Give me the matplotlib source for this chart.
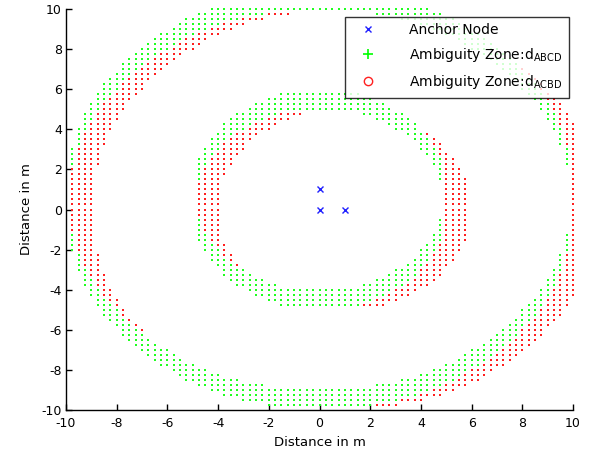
import numpy as np
import matplotlib
matplotlib.use("Agg")
import matplotlib.pyplot as plt
from matplotlib.lines import Line2D

# ---------------- data ----------------
GRID_STEP = 0.25  # spacing of the sampled dots (m)

anchor_x = [0, 0, 1]
anchor_y = [1, 0, 0]

# each run: (y, x_start, x_end) -> dots every GRID_STEP from x_start to x_end
green_outer_runs = [
    (10.0, -4.25, 4.25),
    (9.75, -4.75, -2.25), (9.75, 2.25, 4.75),
    (9.5, -5.25, -3.25), (9.5, 3.25, 5.25),
    (9.25, -5.5, -4.0), (9.25, 4.0, 5.5),
    (9.0, -5.75, -4.5), (9.0, 4.5, 5.75),
    (8.75, -6.25, -5.0), (8.75, 5.0, 6.25),
    (8.5, -6.5, -5.5), (8.5, 5.5, 6.5),
    (8.25, -6.75, -5.75), (8.25, 5.75, 6.75),
    (8.0, -7.0, -6.0), (8.0, 6.0, 7.0),
    (7.75, -7.25, -6.5), (7.75, 6.5, 7.25),
    (7.5, -7.5, -6.75), (7.5, 6.75, 7.5),
    (7.25, -7.75, -7.0), (7.25, 7.0, 7.75),
    (7.0, -7.75, -7.25), (7.0, 7.25, 7.75),
    (6.75, -8.0, -7.5), (6.75, 7.5, 8.0),
    (6.5, -8.25, -7.75), (6.5, 7.75, 8.25),
    (6.25, -8.5, -8.0), (6.25, 8.0, 8.5),
    (6.0, -8.5, -8.0), (6.0, 8.0, 8.5),
    (5.75, -8.75, -8.25), (5.75, 8.25, 8.75),
    (5.5, -8.75, -8.5), (5.5, 8.5, 8.75),
    (5.25, -9.0, -8.75), (5.25, 8.75, 9.0),
    (5.0, -9.0, -8.75), (5.0, 8.75, 9.0),
    (4.75, -9.25, -9.0), (4.75, 9.0, 9.25),
    (4.5, -9.25, -9.0), (4.5, 9.0, 9.25),
    (4.25, -9.25, -9.25), (4.25, 9.25, 9.25),
    (4.0, -9.5, -9.25), (4.0, 9.25, 9.5),
    (3.75, -9.5, -9.5), (3.75, 9.5, 9.5),
    (3.5, -9.5, -9.5), (3.5, 9.5, 9.5),
    (3.25, -9.5, -9.5), (3.25, 9.5, 9.5),
    (3.0, -9.75, -9.75), (3.0, 9.75, 9.75),
    (2.75, -9.75, -9.75), (2.75, 9.75, 9.75),
    (2.5, -9.75, -9.75), (2.5, 9.75, 9.75),
    (2.25, -9.75, -9.75), (2.25, 9.75, 9.75),
    (-1.25, -9.75, -9.75), (-1.25, 9.75, 9.75),
    (-1.5, -9.75, -9.75), (-1.5, 9.75, 9.75),
    (-1.75, -9.75, -9.75), (-1.75, 9.75, 9.75),
    (-2.0, -9.75, -9.75), (-2.0, 9.75, 9.75),
    (-2.25, -9.5, -9.5), (-2.25, 9.5, 9.5),
    (-2.5, -9.5, -9.5), (-2.5, 9.5, 9.5),
    (-2.75, -9.5, -9.5), (-2.75, 9.5, 9.5),
    (-3.0, -9.5, -9.25), (-3.0, 9.25, 9.5),
    (-3.25, -9.25, -9.25), (-3.25, 9.25, 9.25),
    (-3.5, -9.25, -9.0), (-3.5, 9.0, 9.25),
    (-3.75, -9.25, -9.0), (-3.75, 9.0, 9.25),
    (-4.0, -9.0, -8.75), (-4.0, 8.75, 9.0),
    (-4.25, -9.0, -8.75), (-4.25, 8.75, 9.0),
    (-4.5, -8.75, -8.5), (-4.5, 8.5, 8.75),
    (-4.75, -8.75, -8.25), (-4.75, 8.25, 8.75),
    (-5.0, -8.5, -8.0), (-5.0, 8.0, 8.5),
    (-5.25, -8.5, -8.0), (-5.25, 8.0, 8.5),
    (-5.5, -8.25, -7.75), (-5.5, 7.75, 8.25),
    (-5.75, -8.0, -7.5), (-5.75, 7.5, 8.0),
    (-6.0, -7.75, -7.25), (-6.0, 7.25, 7.75),
    (-6.25, -7.75, -7.0), (-6.25, 7.0, 7.75),
    (-6.5, -7.5, -6.75), (-6.5, 6.75, 7.5),
    (-6.75, -7.25, -6.5), (-6.75, 6.5, 7.25),
    (-7.0, -7.0, -6.0), (-7.0, 6.0, 7.0),
    (-7.25, -6.75, -5.75), (-7.25, 5.75, 6.75),
    (-7.5, -6.5, -5.5), (-7.5, 5.5, 6.5),
    (-7.75, -6.25, -5.0), (-7.75, 5.0, 6.25),
    (-8.0, -5.75, -4.5), (-8.0, 4.5, 5.75),
    (-8.25, -5.5, -4.0), (-8.25, 4.0, 5.5),
    (-8.5, -5.25, -3.25), (-8.5, 3.25, 5.25),
    (-8.75, -4.75, -2.25), (-8.75, 2.25, 4.75),
    (-9.0, -4.25, 4.25),
    (-9.25, -3.75, 3.75),
    (-9.5, -3.0, 3.0),
    (-9.75, -2.0, 2.0),
]

green_inner_runs = [
    (5.75, -1.5, 1.5),
    (5.5, -2.0, 2.0),
    (5.25, -2.5, 2.5),
    (5.0, -2.75, 2.75),
    (4.75, -3.25, -1.75), (4.75, 1.75, 3.25),
    (4.5, -3.5, -2.25), (4.5, 2.25, 3.5),
    (4.25, -3.75, -2.75), (4.25, 2.75, 3.75),
    (4.0, -3.75, -3.0), (4.0, 3.0, 3.75),
    (3.75, -4.0, -3.5), (3.75, 3.5, 4.0),
    (3.5, -4.25, -3.75), (3.5, 3.75, 4.25),
    (3.25, -4.25, -4.0), (3.25, 4.0, 4.25),
    (3.0, -4.5, -4.0), (3.0, 4.0, 4.5),
    (2.75, -4.5, -4.25), (2.75, 4.25, 4.5),
    (2.5, -4.75, -4.5), (2.5, 4.5, 4.75),
    (2.25, -4.75, -4.5), (2.25, 4.5, 4.75),
    (2.0, -4.75, -4.75), (2.0, 4.75, 4.75),
    (1.75, -4.75, -4.75), (1.75, 4.75, 4.75),
    (1.5, -4.75, -4.75), (1.5, 4.75, 4.75),
    (-0.5, -4.75, -4.75), (-0.5, 4.75, 4.75),
    (-0.75, -4.75, -4.75), (-0.75, 4.75, 4.75),
    (-1.0, -4.75, -4.75), (-1.0, 4.75, 4.75),
    (-1.25, -4.75, -4.5), (-1.25, 4.5, 4.75),
    (-1.5, -4.75, -4.5), (-1.5, 4.5, 4.75),
    (-1.75, -4.5, -4.25), (-1.75, 4.25, 4.5),
    (-2.0, -4.5, -4.0), (-2.0, 4.0, 4.5),
    (-2.25, -4.25, -4.0), (-2.25, 4.0, 4.25),
    (-2.5, -4.25, -3.75), (-2.5, 3.75, 4.25),
    (-2.75, -4.0, -3.5), (-2.75, 3.5, 4.0),
    (-3.0, -3.75, -3.0), (-3.0, 3.0, 3.75),
    (-3.25, -3.75, -2.75), (-3.25, 2.75, 3.75),
    (-3.5, -3.5, -2.25), (-3.5, 2.25, 3.5),
    (-3.75, -3.25, -1.75), (-3.75, 1.75, 3.25),
    (-4.0, -2.75, 2.75),
    (-4.25, -2.5, 2.5),
    (-4.5, -2.0, 2.0),
    (-4.75, -1.5, 1.5),
]

red_outer_runs = [
    (9.75, -2.0, -1.25), (9.75, 2.25, 3.0),
    (9.5, -3.0, -2.25), (9.5, 3.25, 4.0),
    (9.25, -3.75, -3.0), (9.25, 4.0, 4.75),
    (9.0, -4.25, -3.5), (9.0, 4.5, 5.25),
    (8.75, -4.75, -4.0), (8.75, 5.0, 5.75),
    (8.5, -5.25, -4.5), (8.5, 5.5, 6.25),
    (8.25, -5.5, -4.75), (8.25, 5.75, 6.5),
    (8.0, -5.75, -5.0), (8.0, 6.0, 6.75),
    (7.75, -6.25, -5.5), (7.75, 6.5, 7.25),
    (7.5, -6.5, -5.75), (7.5, 6.75, 7.5),
    (7.25, -6.75, -6.0), (7.25, 7.0, 7.75),
    (7.0, -7.0, -6.25), (7.0, 7.25, 8.0),
    (6.75, -7.25, -6.5), (6.75, 7.5, 8.25),
    (6.5, -7.5, -6.75), (6.5, 7.75, 8.5),
    (6.25, -7.75, -7.0), (6.25, 8.0, 8.75),
    (6.0, -7.75, -7.0), (6.0, 8.0, 8.75),
    (5.75, -8.0, -7.25), (5.75, 8.25, 9.0),
    (5.5, -8.25, -7.5), (5.5, 8.5, 9.25),
    (5.25, -8.5, -7.75), (5.25, 8.75, 9.5),
    (5.0, -8.5, -7.75), (5.0, 8.75, 9.5),
    (4.75, -8.75, -8.0), (4.75, 9.0, 9.75),
    (4.5, -8.75, -8.0), (4.5, 9.0, 9.75),
    (4.25, -9.0, -8.25), (4.25, 9.25, 10.0),
    (4.0, -9.0, -8.25), (4.0, 9.25, 10.0),
    (3.75, -9.25, -8.5), (3.75, 9.5, 10.0),
    (3.5, -9.25, -8.5), (3.5, 9.5, 10.0),
    (3.25, -9.25, -8.5), (3.25, 9.5, 10.0),
    (3.0, -9.5, -8.75), (3.0, 9.75, 10.0),
    (2.75, -9.5, -8.75), (2.75, 9.75, 10.0),
    (2.5, -9.5, -8.75), (2.5, 9.75, 10.0),
    (2.25, -9.5, -8.75), (2.25, 9.75, 10.0),
    (2.0, -9.75, -9.0), (2.0, 10.0, 10.0),
    (1.75, -9.75, -9.0), (1.75, 10.0, 10.0),
    (1.5, -9.75, -9.0), (1.5, 10.0, 10.0),
    (1.25, -9.75, -9.0), (1.25, 10.0, 10.0),
    (1.0, -9.75, -9.0), (1.0, 10.0, 10.0),
    (0.75, -9.75, -9.0), (0.75, 10.0, 10.0),
    (0.5, -9.75, -9.0), (0.5, 10.0, 10.0),
    (0.25, -9.75, -9.0), (0.25, 10.0, 10.0),
    (0.0, -9.75, -9.0), (0.0, 10.0, 10.0),
    (-0.25, -9.75, -9.0), (-0.25, 10.0, 10.0),
    (-0.5, -9.75, -9.0), (-0.5, 10.0, 10.0),
    (-0.75, -9.75, -9.0), (-0.75, 10.0, 10.0),
    (-1.0, -9.75, -9.0), (-1.0, 10.0, 10.0),
    (-1.25, -9.75, -9.0), (-1.25, 10.0, 10.0),
    (-1.5, -9.75, -9.0), (-1.5, 10.0, 10.0),
    (-1.75, -9.75, -9.0), (-1.75, 10.0, 10.0),
    (-2.0, -9.75, -9.0), (-2.0, 10.0, 10.0),
    (-2.25, -9.5, -8.75), (-2.25, 9.75, 10.0),
    (-2.5, -9.5, -8.75), (-2.5, 9.75, 10.0),
    (-2.75, -9.5, -8.75), (-2.75, 9.75, 10.0),
    (-3.0, -9.5, -8.75), (-3.0, 9.75, 10.0),
    (-3.25, -9.25, -8.5), (-3.25, 9.5, 10.0),
    (-3.5, -9.25, -8.5), (-3.5, 9.5, 10.0),
    (-3.75, -9.25, -8.5), (-3.75, 9.5, 10.0),
    (-4.0, -9.0, -8.25), (-4.0, 9.25, 10.0),
    (-4.25, -9.0, -8.25), (-4.25, 9.25, 10.0),
    (-4.5, -8.75, -8.0), (-4.5, 9.0, 9.75),
    (-4.75, -8.75, -8.0), (-4.75, 9.0, 9.75),
    (-5.0, -8.5, -7.75), (-5.0, 8.75, 9.5),
    (-5.25, -8.5, -7.75), (-5.25, 8.75, 9.5),
    (-5.5, -8.25, -7.5), (-5.5, 8.5, 9.25),
    (-5.75, -8.0, -7.25), (-5.75, 8.25, 9.0),
    (-6.0, -7.75, -7.0), (-6.0, 8.0, 8.75),
    (-6.25, -7.75, -7.0), (-6.25, 8.0, 8.75),
    (-6.5, -7.5, -6.75), (-6.5, 7.75, 8.5),
    (-6.75, -7.25, -6.5), (-6.75, 7.5, 8.25),
    (-7.0, -7.0, -6.25), (-7.0, 7.25, 8.0),
    (-7.25, -6.75, -6.0), (-7.25, 7.0, 7.75),
    (-7.5, -6.5, -5.75), (-7.5, 6.75, 7.5),
    (-7.75, -6.25, -5.5), (-7.75, 6.5, 7.25),
    (-8.0, -5.75, -5.0), (-8.0, 6.0, 6.75),
    (-8.25, -5.5, -4.75), (-8.25, 5.75, 6.5),
    (-8.5, -5.25, -4.5), (-8.5, 5.5, 6.25),
    (-8.75, -4.75, -4.0), (-8.75, 5.0, 5.75),
    (-9.0, -4.25, -3.5), (-9.0, 4.5, 5.25),
    (-9.25, -3.75, -3.0), (-9.25, 4.0, 4.75),
    (-9.5, -3.0, -2.25), (-9.5, 3.25, 4.0),
    (-9.75, -2.0, -1.25), (-9.75, 2.25, 3.0),
]

red_inner_runs = [
    (4.75, -1.5, -0.75), (4.75, 1.75, 2.5),
    (4.5, -2.0, -1.25), (4.5, 2.25, 3.0),
    (4.25, -2.5, -1.75), (4.25, 2.75, 3.5),
    (4.0, -2.75, -2.0), (4.0, 3.0, 3.75),
    (3.75, -3.25, -2.5), (3.75, 3.5, 4.25),
    (3.5, -3.5, -2.75), (3.5, 3.75, 4.5),
    (3.25, -3.75, -3.0), (3.25, 4.0, 4.75),
    (3.0, -3.75, -3.0), (3.0, 4.0, 4.75),
    (2.75, -4.0, -3.25), (2.75, 4.25, 5.0),
    (2.5, -4.25, -3.5), (2.5, 4.5, 5.25),
    (2.25, -4.25, -3.5), (2.25, 4.5, 5.25),
    (2.0, -4.5, -3.75), (2.0, 4.75, 5.5),
    (1.75, -4.5, -3.75), (1.75, 4.75, 5.5),
    (1.5, -4.75, -4.0), (1.5, 5.0, 5.75),
    (1.25, -4.75, -4.0), (1.25, 5.0, 5.75),
    (1.0, -4.75, -4.0), (1.0, 5.0, 5.75),
    (0.75, -4.75, -4.0), (0.75, 5.0, 5.75),
    (0.5, -4.75, -4.0), (0.5, 5.0, 5.75),
    (0.25, -4.75, -4.0), (0.25, 5.0, 5.75),
    (0.0, -4.75, -4.0), (0.0, 5.0, 5.75),
    (-0.25, -4.75, -4.0), (-0.25, 5.0, 5.75),
    (-0.5, -4.75, -4.0), (-0.5, 5.0, 5.75),
    (-0.75, -4.75, -4.0), (-0.75, 5.0, 5.75),
    (-1.0, -4.75, -4.0), (-1.0, 5.0, 5.75),
    (-1.25, -4.75, -4.0), (-1.25, 5.0, 5.75),
    (-1.5, -4.75, -4.0), (-1.5, 5.0, 5.75),
    (-1.75, -4.5, -3.75), (-1.75, 4.75, 5.5),
    (-2.0, -4.5, -3.75), (-2.0, 4.75, 5.5),
    (-2.25, -4.25, -3.5), (-2.25, 4.5, 5.25),
    (-2.5, -4.25, -3.5), (-2.5, 4.5, 5.25),
    (-2.75, -4.0, -3.25), (-2.75, 4.25, 5.0),
    (-3.0, -3.75, -3.0), (-3.0, 4.0, 4.75),
    (-3.25, -3.75, -3.0), (-3.25, 4.0, 4.75),
    (-3.5, -3.5, -2.75), (-3.5, 3.75, 4.5),
    (-3.75, -3.25, -2.5), (-3.75, 3.5, 4.25),
    (-4.0, -2.75, -2.0), (-4.0, 3.0, 3.75),
    (-4.25, -2.5, -1.75), (-4.25, 2.75, 3.5),
    (-4.5, -2.0, -1.25), (-4.5, 2.25, 3.0),
    (-4.75, -1.5, -0.75), (-4.75, 1.75, 2.5),
]

x_ticks = [-10, -8, -6, -4, -2, 0, 2, 4, 6, 8, 10]
y_ticks = [-10, -8, -6, -4, -2, 0, 2, 4, 6, 8, 10]
labels = ["Anchor Node", "Ambiguity Zone:d$_{ABCD}$", "Ambiguity Zone:d$_{ACBD}$"]


def expand(runs):
    xs, ys = [], []
    for y, x0, x1 in runs:
        pts = np.arange(x0, x1 + GRID_STEP / 2, GRID_STEP)
        xs.extend(pts)
        ys.extend([y] * len(pts))
    return np.array(xs), np.array(ys)


plt.rcParams["font.family"] = ["DejaVu Sans"]
plt.rcParams["axes.unicode_minus"] = False
plt.rcParams["mathtext.default"] = "regular"

fig = plt.figure(figsize=(5.92, 4.57), dpi=100)
ax = fig.add_axes([0.1115, 0.1028, 0.8564, 0.8775])

gx, gy = expand(green_outer_runs + green_inner_runs)
rx, ry = expand(red_outer_runs + red_inner_runs)

ax.scatter(rx, ry, s=1.7, marker="s", color="#ff2020", linewidths=0, zorder=2, clip_on=False)
ax.scatter(gx, gy, s=1.7, marker="s", color="#20ff20", linewidths=0, zorder=3, clip_on=False)
ax.plot(anchor_x, anchor_y, linestyle="none", marker="x", color="#2020ff",
        markersize=4.5, markeredgewidth=1.0, zorder=4)

ax.set_xlim(-10, 10)
ax.set_ylim(-10, 10)
ax.set_xticks(x_ticks)
ax.set_yticks(y_ticks)
ax.tick_params(direction="in", length=4, width=1, labelsize=9, colors="black")
ax.tick_params(axis="x", pad=5)
ax.tick_params(axis="y", pad=3)
for side in ["top", "right"]:
    ax.spines[side].set_visible(False)
for side in ["left", "bottom"]:
    ax.spines[side].set_linewidth(1.0)
ax.set_xlabel("Distance in m", fontsize=9.5, labelpad=4)
ax.set_ylabel("Distance in m", fontsize=9.5, labelpad=6)

handles = [
    Line2D([], [], linestyle="none", marker="x", color="#2020ff", markersize=5, markeredgewidth=1.0),
    Line2D([], [], linestyle="none", marker="+", color="#00ff00", markersize=7, markeredgewidth=1.2),
    Line2D([], [], linestyle="none", marker="o", color="#ff2020", markerfacecolor="none",
           markersize=6, markeredgewidth=1.0),
]
leg = ax.legend(handles, labels, loc="upper right", bbox_to_anchor=(0.992, 0.980),
                borderaxespad=0, fontsize=10, frameon=True, fancybox=False,
                handlelength=2.4, handletextpad=1.8, labelspacing=0.65, borderpad=0.45)
leg.get_frame().set_edgecolor("black")
leg.get_frame().set_linewidth(1.0)
leg.set_zorder(10)

fig.savefig("out.png", dpi=100)
